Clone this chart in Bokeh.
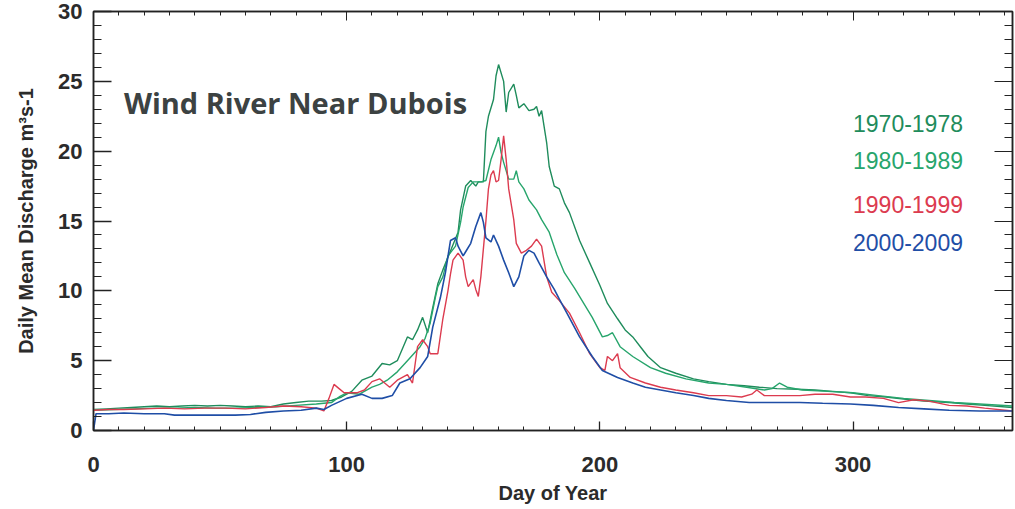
from bokeh.plotting import figure
from bokeh.models import Range1d, SingleIntervalTicker, LinearAxis, CustomJSTickFormatter, Label
from bokeh.embed import file_html
from bokeh.resources import INLINE

# ---------------- data ----------------
g70_day = [0, 5, 10, 15, 20, 25, 30, 35, 40, 45, 50, 55, 60, 65, 70, 75, 80, 85, 90, 94, 98, 102, 106, 110,
           114, 117, 120, 124, 126, 128, 130, 132, 134, 136, 138, 140, 142, 144, 145, 147, 149, 151, 152, 154,
           155, 156, 158, 159, 160, 162, 163, 164, 166, 167, 168, 170, 172, 174, 175, 176, 177, 179, 180, 182,
           184, 186, 188, 192, 196, 200, 203, 207, 210, 213, 216, 219, 224, 230, 237, 243, 250, 257, 263, 270,
           278, 285, 292, 299, 306, 313, 320, 328, 338, 345, 352, 363]
g70_val = [1.5, 1.55, 1.6, 1.65, 1.7, 1.75, 1.7, 1.75, 1.8, 1.75, 1.8, 1.75, 1.7, 1.75, 1.7, 1.9, 2.0, 2.1, 2.1,
           2.15, 2.4, 2.8, 3.6, 3.9, 4.8, 4.7, 5.0, 6.7, 6.5, 7.2, 8.1, 7.0, 8.8, 10.5, 11.5, 12.4, 13.3, 14.2,
           15.8, 17.5, 17.9, 17.5, 17.8, 17.8, 21.4, 22.5, 23.7, 25.4, 26.2, 25.0, 22.8, 24.2, 24.8, 24.0, 23.1,
           23.4, 22.9, 23.0, 23.2, 22.5, 22.9, 20.6, 18.9, 17.5, 17.3, 16.3, 15.6, 13.6, 12.0, 10.4, 9.1, 8.0,
           7.2, 6.7, 6.0, 5.3, 4.5, 4.1, 3.7, 3.5, 3.3, 3.2, 3.1, 3.0, 2.95, 2.9, 2.8, 2.7, 2.5, 2.4, 2.25, 2.1,
           2.0, 1.9, 1.8, 1.65]

g80_day = [0, 8, 16, 24, 32, 40, 48, 56, 64, 72, 80, 88, 94, 97, 100, 105, 110, 113, 116, 120, 124, 129, 131,
           133, 135, 136, 138, 140, 143, 145, 146, 148, 150, 153, 155, 157, 159, 160, 161, 162, 164, 166, 167,
           168, 170, 172, 175, 177, 180, 183, 186, 190, 194, 197, 201, 203, 205, 208, 213, 220, 226, 234, 243,
           250, 258, 265, 268, 271, 274, 280, 290, 300, 310, 320, 330, 340, 350, 363]
g80_val = [1.45, 1.5, 1.55, 1.6, 1.6, 1.65, 1.6, 1.6, 1.65, 1.7, 1.8, 1.9, 2.0, 2.4, 2.7, 2.6, 3.1, 3.3, 3.6,
           4.2, 5.0, 6.0, 6.6, 7.7, 9.5, 10.3, 11.0, 12.5, 13.2, 14.9, 16.0, 17.4, 17.8, 17.8, 17.9, 19.4, 20.4,
           21.0, 19.9, 19.2, 18.0, 18.0, 18.6, 17.8, 17.3, 16.5, 15.8, 15.1, 14.2, 12.6, 11.3, 10.2, 9.0, 8.1,
           6.7, 6.8, 7.0, 6.0, 5.3, 4.5, 4.1, 3.7, 3.4, 3.3, 3.1, 2.9, 3.0, 3.4, 3.1, 2.9, 2.8, 2.7, 2.5, 2.3,
           2.15, 2.0, 1.9, 1.75]

r90_day = [0, 6, 12, 20, 28, 36, 44, 52, 60, 68, 75, 82, 88, 91, 93, 95, 97, 99, 104, 107, 110, 113, 117, 120,
           124, 126, 128, 130, 132, 133, 136, 138, 140, 141, 142, 144, 146, 147, 148, 150, 151, 152, 153, 154,
           155, 156, 157, 158, 159, 160, 161, 162, 163, 164, 166, 167, 169, 171, 173, 175, 177, 179, 181, 184,
           188, 192, 196, 200, 202, 203, 205, 207, 208, 212, 218, 224, 230, 237, 243, 250, 256, 260, 262, 265,
           272, 279, 285, 292, 299, 305, 312, 318, 324, 330, 338, 345, 352, 363]
r90_val = [1.45, 1.5, 1.5, 1.55, 1.6, 1.55, 1.6, 1.6, 1.55, 1.65, 1.75, 1.7, 1.6, 1.4, 2.3, 3.3, 3.0, 2.7, 2.7,
           2.9, 3.5, 3.7, 3.1, 3.6, 4.0, 3.4, 6.0, 6.5, 6.0, 5.5, 5.5, 8.0, 10.0, 11.2, 12.2, 12.7, 12.2, 11.0,
           10.3, 10.8, 10.1, 9.6, 11.0, 13.0, 15.0, 17.3, 18.3, 18.6, 17.8, 17.9, 19.4, 21.1, 19.4, 17.3, 15.1,
           13.4, 12.7, 12.9, 13.2, 13.7, 13.2, 11.0, 9.9, 9.3, 8.4, 7.0, 5.5, 4.5, 4.3, 5.3, 5.0, 5.5, 4.5, 3.8,
           3.4, 3.1, 2.9, 2.7, 2.5, 2.5, 2.4, 2.6, 2.9, 2.5, 2.5, 2.5, 2.6, 2.6, 2.4, 2.4, 2.3, 2.0, 2.2, 2.1,
           1.8, 1.75, 1.6, 1.4]

b00_day = [0, 1, 6, 12, 20, 28, 32, 40, 48, 56, 62, 68, 75, 82, 88, 91, 94, 100, 106, 110, 114, 118, 121, 125,
           129, 132, 134, 137, 139, 141, 143, 144, 146, 147, 149, 151, 153, 154, 155, 157, 158, 160, 162, 164,
           166, 168, 170, 172, 174, 176, 179, 182, 184, 187, 192, 197, 201, 207, 213, 218, 224, 230, 237, 243,
           250, 259, 268, 279, 288, 299, 308, 318, 328, 338, 350, 363]
b00_val = [0.0, 1.2, 1.2, 1.25, 1.2, 1.2, 1.1, 1.1, 1.1, 1.1, 1.15, 1.3, 1.4, 1.45, 1.6, 1.5, 1.8, 2.3, 2.6,
           2.3, 2.3, 2.5, 3.4, 3.7, 4.5, 5.3, 7.4, 9.5, 11.3, 13.6, 13.8, 13.2, 12.5, 12.8, 13.4, 14.6, 15.6,
           14.9, 13.8, 13.5, 14.0, 13.2, 12.2, 11.3, 10.3, 11.0, 12.5, 12.9, 12.7, 12.0, 11.0, 10.1, 9.4, 8.4,
           6.7, 5.3, 4.3, 3.8, 3.4, 3.1, 2.9, 2.7, 2.5, 2.3, 2.15, 2.0, 2.0, 2.0, 1.95, 1.9, 1.8, 1.65, 1.55,
           1.45, 1.4, 1.4]

series_names = ["1970-1978", "1980-1989", "1990-1999", "2000-2009"]
series_colors = ["#1f8c5c", "#27a56c", "#dc3b4f", "#1f4ea6"]
title_text = "Wind River Near Dubois"

# ---------------- figure ----------------
p = figure(width=1014, height=508, x_range=Range1d(0, 363), y_range=Range1d(0, 30),
           output_backend="svg", toolbar_location=None,
           min_border_left=93, min_border_right=2, min_border_top=11, min_border_bottom=78)
p.background_fill_color = "white"
p.border_fill_color = "white"
p.xgrid.visible = False
p.ygrid.visible = False
p.outline_line_color = "#222222"
p.outline_line_width = 1.5

tick_font = "Liberation Sans"
xt = SingleIntervalTicker(interval=100, num_minor_ticks=10)
yt = SingleIntervalTicker(interval=5, num_minor_ticks=5)

for ax in p.xaxis:
    ax.ticker = xt
    ax.major_tick_in = 9
    ax.major_tick_out = 0
    ax.minor_tick_in = 4
    ax.minor_tick_out = 0
    ax.axis_line_color = "#222222"
    ax.axis_line_width = 1.5
    ax.major_tick_line_color = "#222222"
    ax.minor_tick_line_color = "#222222"
    ax.major_tick_line_width = 1.3
    ax.major_label_text_font = tick_font
    ax.major_label_text_font_style = "bold"
    ax.major_label_text_font_size = "22px"
    ax.major_label_text_color = "#2b2b2b"
    ax.major_label_standoff = 26
    ax.axis_label = "Day of Year"
    ax.axis_label_text_font = tick_font
    ax.axis_label_text_font_style = "bold"
    ax.axis_label_text_font_size = "20px"
    ax.axis_label_text_color = "#2b2b2b"
    ax.axis_label_standoff = 7

for ax in p.yaxis:
    ax.ticker = yt
    ax.major_tick_in = 18
    ax.major_tick_out = 0
    ax.minor_tick_in = 8
    ax.minor_tick_out = 0
    ax.axis_line_color = "#222222"
    ax.axis_line_width = 1.5
    ax.major_tick_line_color = "#222222"
    ax.minor_tick_line_color = "#222222"
    ax.major_tick_line_width = 1.3
    ax.major_label_text_font = tick_font
    ax.major_label_text_font_style = "bold"
    ax.major_label_text_font_size = "22px"
    ax.major_label_text_color = "#2b2b2b"
    ax.major_label_standoff = 11
    ax.axis_label = "Daily Mean Discharge m\u00b3s-1"
    ax.axis_label_text_font = tick_font
    ax.axis_label_text_font_style = "bold"
    ax.axis_label_text_font_size = "20px"
    ax.axis_label_text_color = "#2b2b2b"
    ax.axis_label_standoff = 18

blank = CustomJSTickFormatter(code="return ''")
top = LinearAxis(ticker=xt, formatter=blank, major_tick_in=9, major_tick_out=0, minor_tick_in=4,
                 minor_tick_out=0, major_label_standoff=0, major_label_text_font_size="1px",
                 axis_line_color="#222222", axis_line_width=1.5, major_tick_line_color="#222222",
                 minor_tick_line_color="#222222")
right = LinearAxis(ticker=yt, formatter=blank, major_tick_in=18, major_tick_out=0, minor_tick_in=8,
                   minor_tick_out=0, major_label_standoff=0, major_label_text_font_size="1px",
                   axis_line_color="#222222", axis_line_width=1.5, major_tick_line_color="#222222",
                   minor_tick_line_color="#222222")
p.add_layout(top, "above")
p.add_layout(right, "right")

# ---------------- lines ----------------
days = [g70_day, g80_day, r90_day, b00_day]
vals = [g70_val, g80_val, r90_val, b00_val]
widths = [1.4, 1.4, 1.4, 1.6]
for d, v, c, w in zip(days, vals, series_colors, widths):
    p.line(d, v, line_color=c, line_width=w)

# ---------------- texts ----------------
p.add_layout(Label(x=12, y=23.45, text=title_text, text_font="Open Sans", text_font_style="bold",
                   text_font_size="29px", text_color="#3c4242", text_baseline="middle"))

legend_y = [22.0, 19.3, 16.2, 13.45]
for name, c, yy in zip(series_names, series_colors, legend_y):
    p.add_layout(Label(x=300, y=yy, text=name, text_font="Liberation Sans", text_font_size="23px",
                       text_color=c, text_baseline="middle"))

open("out.html", "w").write(file_html(p, INLINE))
